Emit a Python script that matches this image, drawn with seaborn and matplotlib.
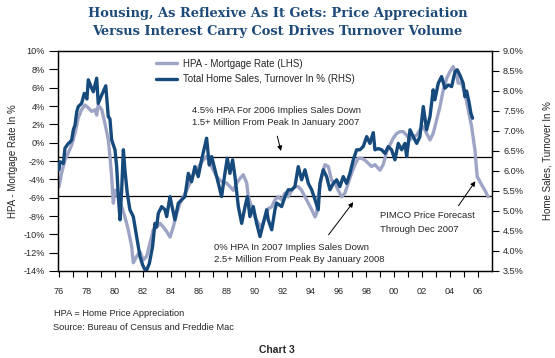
import matplotlib
matplotlib.use("Agg")
import matplotlib.pyplot as plt
import seaborn as sns
import pandas as pd

# ---------------- data ----------------
hpa_years = [1976.00, 1976.19, 1976.43, 1976.67, 1976.91, 1977.15, 1977.38, 1977.62, 1977.86, 1978.10,
             1978.34, 1978.58, 1978.70, 1978.81, 1979.06, 1979.29, 1979.53, 1979.65, 1979.77, 1979.89,
             1980.01, 1980.13, 1980.24, 1980.49, 1980.72, 1980.96, 1981.20, 1981.32, 1981.56, 1981.80,
             1982.03, 1982.28, 1982.51, 1982.75, 1982.99, 1983.23, 1983.47, 1983.71, 1983.95, 1984.18,
             1984.43, 1984.66, 1984.90, 1985.14, 1985.38, 1985.61, 1985.86, 1986.09, 1986.33, 1986.57,
             1986.81, 1987.05, 1987.29, 1987.52, 1987.76, 1988.00, 1988.24, 1988.48, 1988.72, 1988.96,
             1989.19, 1989.44, 1989.55, 1989.79, 1990.03, 1990.27, 1990.51, 1990.75, 1990.98, 1991.23,
             1991.46, 1991.70, 1991.94, 1992.18, 1992.41, 1992.66, 1992.89, 1993.13, 1993.37, 1993.61,
             1993.85, 1994.09, 1994.33, 1994.45, 1994.56, 1994.80, 1995.04, 1995.28, 1995.52, 1995.76,
             1995.99, 1996.24, 1996.47, 1996.71, 1996.95, 1997.19, 1997.42, 1997.66, 1997.90, 1998.14,
             1998.38, 1998.62, 1998.74, 1998.98, 1999.21, 1999.46, 1999.69, 1999.93, 2000.17, 2000.41,
             2000.65, 2000.89, 2001.13, 2001.36, 2001.61, 2001.84, 2002.08, 2002.32, 2002.56, 2002.79,
             2003.04, 2003.27, 2003.51, 2003.75, 2003.99, 2004.22, 2004.47, 2004.58, 2004.82, 2005.06,
             2005.30, 2005.54, 2005.78, 2005.94, 2006.26, 2006.49, 2006.73]
hpa_minus_mortgage = [-4.8, -3.3, -1.9, -1.1, -0.25, 1.05, 2.7, 3.6, 4.1, 3.8,
                      3.4, 3.6, 3.0, 4.1, 3.6, 2.1, 0.3, -1.5, -3.7, -6.6,
                      -5.2, -5.2, -5.9, -7.0, -8.1, -9.5, -11.3, -13.1, -12.4, -11.9,
                      -12.8, -12.4, -11.0, -9.5, -9.2, -8.8, -9.2, -9.7, -10.3, -9.2,
                      -7.7, -6.6, -5.9, -5.2, -4.4, -3.5, -3.0, -2.4, -1.9, -1.5,
                      -2.25, -3.0, -3.7, -4.1, -4.3, -4.4, -4.8, -5.2, -4.4, -3.9,
                      -3.5, -4.4, -5.9, -7.0, -8.1, -8.8, -9.2, -8.2, -7.2, -7.0,
                      -6.25, -5.9, -6.25, -5.5, -5.9, -5.2, -4.8, -4.8, -5.2, -5.9,
                      -6.6, -7.3, -8.1, -7.7, -5.9, -3.7, -2.4, -2.6, -4.1, -4.4,
                      -5.2, -5.9, -5.5, -4.4, -3.3, -2.4, -1.7, -1.7, -1.9, -2.25,
                      -2.6, -2.4, -2.6, -3.0, -2.4, -1.0, -0.25, 0.5, 1.0, 1.2,
                      1.2, 0.8, 0.3, 0.65, 0.8, 1.4, 1.75, 1.0, 0.3, 1.0,
                      2.5, 3.9, 5.75, 7.0, 7.75, 8.3, 7.4, 6.5, 6.5, 5.4,
                      3.6, 1.75, -0.8, -3.7, -4.6, -5.2, -5.9]

sales_years = [1976.00, 1976.07, 1976.31, 1976.43, 1976.67, 1976.79, 1976.91, 1977.03, 1977.15, 1977.27,
               1977.38, 1977.62, 1977.81, 1978.00, 1978.10, 1978.29, 1978.46, 1978.58, 1978.70, 1978.81,
               1979.06, 1979.35, 1979.53, 1979.65, 1979.77, 1980.01, 1980.13, 1980.25, 1980.37, 1980.49,
               1980.61, 1980.72, 1980.89, 1981.08, 1981.32, 1981.56, 1981.80, 1981.99, 1982.23, 1982.47,
               1982.70, 1982.87, 1982.99, 1983.11, 1983.35, 1983.59, 1983.71, 1983.95, 1984.07, 1984.30,
               1984.54, 1984.78, 1985.02, 1985.26, 1985.49, 1985.73, 1985.97, 1986.21, 1986.38, 1986.57,
               1986.76, 1986.93, 1987.17, 1987.41, 1987.64, 1987.88, 1988.05, 1988.24, 1988.43, 1988.60,
               1988.84, 1989.08, 1989.32, 1989.49, 1989.67, 1989.91, 1990.15, 1990.39, 1990.63, 1990.87,
               1990.98, 1991.23, 1991.46, 1991.58, 1991.94, 1992.18, 1992.41, 1992.66, 1992.89, 1993.13,
               1993.37, 1993.61, 1993.85, 1994.09, 1994.33, 1994.56, 1994.68, 1994.92, 1995.16, 1995.40,
               1995.64, 1995.88, 1996.11, 1996.35, 1996.59, 1996.83, 1997.07, 1997.31, 1997.54, 1997.78,
               1998.03, 1998.26, 1998.50, 1998.62, 1998.86, 1999.10, 1999.34, 1999.57, 1999.81, 2000.05,
               2000.29, 2000.53, 2000.77, 2000.89, 2001.13, 2001.36, 2001.61, 2001.84, 2002.08, 2002.32,
               2002.56, 2002.79, 2002.91, 2003.15, 2003.39, 2003.63, 2003.87, 2004.11, 2004.35, 2004.51,
               2004.70, 2004.94, 2005.06, 2005.18, 2005.35, 2005.49, 2005.61]
sales_turnover = [6.03, 6.23, 6.19, 6.57, 6.69, 6.72, 6.78, 7.03, 7.15, 7.48,
                  7.61, 7.69, 7.94, 7.80, 8.28, 8.11, 7.98, 8.15, 8.32, 7.69,
                  7.90, 8.13, 7.36, 7.30, 6.78, 6.53, 6.11, 5.36, 4.78, 5.53,
                  6.53, 6.03, 5.44, 5.03, 4.86, 4.36, 3.86, 3.65, 3.48, 3.69,
                  4.11, 4.69, 4.60, 4.94, 5.11, 5.03, 4.86, 5.36, 5.15, 4.78,
                  5.19, 5.28, 5.36, 5.94, 5.73, 6.11, 5.86, 6.28, 6.53, 6.82,
                  6.15, 6.36, 6.03, 5.69, 5.36, 5.94, 6.32, 5.94, 6.28, 5.86,
                  5.11, 4.69, 5.11, 5.36, 4.86, 5.11, 4.69, 4.36, 4.69, 5.03,
                  4.78, 4.53, 5.03, 5.20, 5.11, 5.36, 5.53, 5.53, 5.61, 6.11,
                  5.78, 6.03, 5.69, 5.53, 5.28, 5.03, 5.69, 6.03, 5.86, 5.53,
                  5.69, 5.78, 5.61, 5.86, 5.69, 5.94, 6.28, 6.53, 6.53, 6.61,
                  6.86, 6.69, 6.96, 6.53, 6.56, 6.53, 6.44, 6.61, 6.53, 6.28,
                  6.69, 6.53, 6.69, 6.36, 7.03, 6.86, 6.69, 6.86, 7.61, 7.03,
                  7.36, 8.03, 7.78, 8.19, 8.36, 8.07, 8.15, 8.11, 8.48, 8.53,
                  8.40, 8.19, 7.86, 8.00, 7.73, 7.44, 7.32]

ref_levels = [-1.55, -5.8]
x_tick_years = list(range(1976, 2007, 2))
x_tick_labels = ["76", "78", "80", "82", "84", "86", "88", "90", "92", "94",
                 "96", "98", "00", "02", "04", "06"]
left_ticks = list(range(-14, 11, 2))
right_ticks = [3.5, 4.0, 4.5, 5.0, 5.5, 6.0, 6.5, 7.0, 7.5, 8.0, 8.5, 9.0]

# ---------------- styling ----------------
sns.set_theme(style="white")
plt.rcParams["font.family"] = ["Liberation Sans", "DejaVu Sans"]

GREY = "#9ea4c6"
NAVY = "#174a7c"
TITLE_C = "#1d4a78"

fig = plt.figure(figsize=(5.55, 3.58), dpi=100)
ax = fig.add_axes([58 / 555, 1 - 271 / 358, 434 / 555, 220 / 358])
ax2 = ax.twinx()

df_hpa = pd.DataFrame({"year": hpa_years, "val": hpa_minus_mortgage})
df_sales = pd.DataFrame({"year": sales_years, "val": sales_turnover})

for lv in ref_levels:
    ax.axhline(lv, color="black", lw=0.9, zorder=1)

sns.lineplot(data=df_hpa, x="year", y="val", ax=ax, color=GREY, lw=2.4,
             label="HPA - Mortgage Rate (LHS)", legend=False, zorder=2)
sns.lineplot(data=df_sales, x="year", y="val", ax=ax2, color=NAVY, lw=2.4,
             label="Total Home Sales, Turnover In % (RHS)", legend=False, zorder=3)

ax.set_xlim(1975.93, 2007.0)
ax.set_ylim(-14, 10)
ax2.set_ylim(3.5, 9.0)

ax.set_xticks(x_tick_years)
ax.set_xticklabels(x_tick_labels)
ax.set_xticks(list(range(1977, 2007, 2)), minor=True)
ax.set_yticks(left_ticks)
ax.set_yticklabels([f"{v}%" for v in left_ticks])
ax2.set_yticks(right_ticks)
ax2.set_yticklabels([f"{v:.1f}%" for v in right_ticks])

fs_tick = 6.6
ax.tick_params(axis="x", which="both", direction="out", length=4.5, width=0.8,
               color="black", labelsize=fs_tick, pad=7, bottom=True)
ax.tick_params(axis="y", direction="out", length=6.5, width=0.8, color="black",
               labelsize=fs_tick, pad=3, left=True)
ax2.tick_params(axis="y", direction="out", length=5, width=0.8, color="black",
                labelsize=fs_tick, pad=3, right=True)
for a in (ax, ax2):
    for s in a.spines.values():
        s.set_color("black")
        s.set_linewidth(0.9)
ax.set_xlabel("")
ax.set_ylabel("HPA - Mortgage Rate In %", fontsize=7, labelpad=4)
ax2.set_ylabel("Home Sales, Turnover In %", fontsize=7, labelpad=13)

# legend (drawn on the top axes)
handles = ax.get_lines()[-1:] + ax2.get_lines()[:1]
labels = ["HPA - Mortgage Rate (LHS)", "Total Home Sales, Turnover In % (RHS)"]
ax2.legend(handles, labels, loc="upper left", bbox_to_anchor=(0.225, 0.965),
           frameon=False, fontsize=7, handlelength=2.2, handletextpad=0.6,
           labelspacing=0.55, borderpad=0, borderaxespad=0)

# annotations (positions in left-axis data coordinates)
fs_ann = 6.8
ax2.text(1985.52, 2.85, "4.5% HPA For 2006 Implies Sales Down\n1.5+ Million From Peak In January 2007",
         fontsize=fs_ann, ha="left", va="center", linespacing=1.45, transform=ax.transData)
ax2.annotate("", xy=(1991.94, -1.2), xytext=(1991.58, 1.0), xycoords=ax.transData,
             textcoords=ax.transData,
             arrowprops=dict(arrowstyle="-|>", color="black", lw=0.7, mutation_scale=7))
ax2.text(1987.10, -12.05, "0% HPA In 2007 Implies Sales Down\n2.5+ Million From Peak By January 2008",
         fontsize=fs_ann, ha="left", va="center", linespacing=1.45, transform=ax.transData)
ax2.annotate("", xy=(1997.19, -6.25), xytext=(1995.18, -10.29), xycoords=ax.transData,
             textcoords=ax.transData,
             arrowprops=dict(arrowstyle="-|>", color="black", lw=0.7, mutation_scale=7))
ax2.text(1998.98, -8.7, "PIMCO Price Forecast\nThrough Dec 2007",
         fontsize=fs_ann, ha="left", va="center", linespacing=1.6, transform=ax.transData)
ax2.annotate("", xy=(2005.92, -3.96), xytext=(2004.49, -7.13), xycoords=ax.transData,
             textcoords=ax.transData,
             arrowprops=dict(arrowstyle="-|>", color="black", lw=0.7, mutation_scale=7))

# titles and notes
fig.text(0.5, 1 - 16.5 / 358, "Housing, As Reflexive As It Gets: Price Appreciation",
         ha="center", va="baseline", fontsize=9.4, fontweight="bold",
         family=["DejaVu Serif"], color=TITLE_C)
fig.text(0.5, 1 - 34.5 / 358, "Versus Interest Carry Cost Drives Turnover Volume",
         ha="center", va="baseline", fontsize=9.4, fontweight="bold",
         family=["DejaVu Serif"], color=TITLE_C)
fig.text(54 / 555, 1 - 313 / 358, "HPA = Home Price Appreciation", fontsize=6.7, va="center")
fig.text(53 / 555, 1 - 327 / 358, "Source: Bureau of Census and Freddie Mac", fontsize=6.7, va="center")
fig.text(277 / 555, 1 - 350 / 358, "Chart 3", fontsize=7.5, fontweight="bold",
         ha="center", va="center")

fig.savefig("out.png", dpi=100)
